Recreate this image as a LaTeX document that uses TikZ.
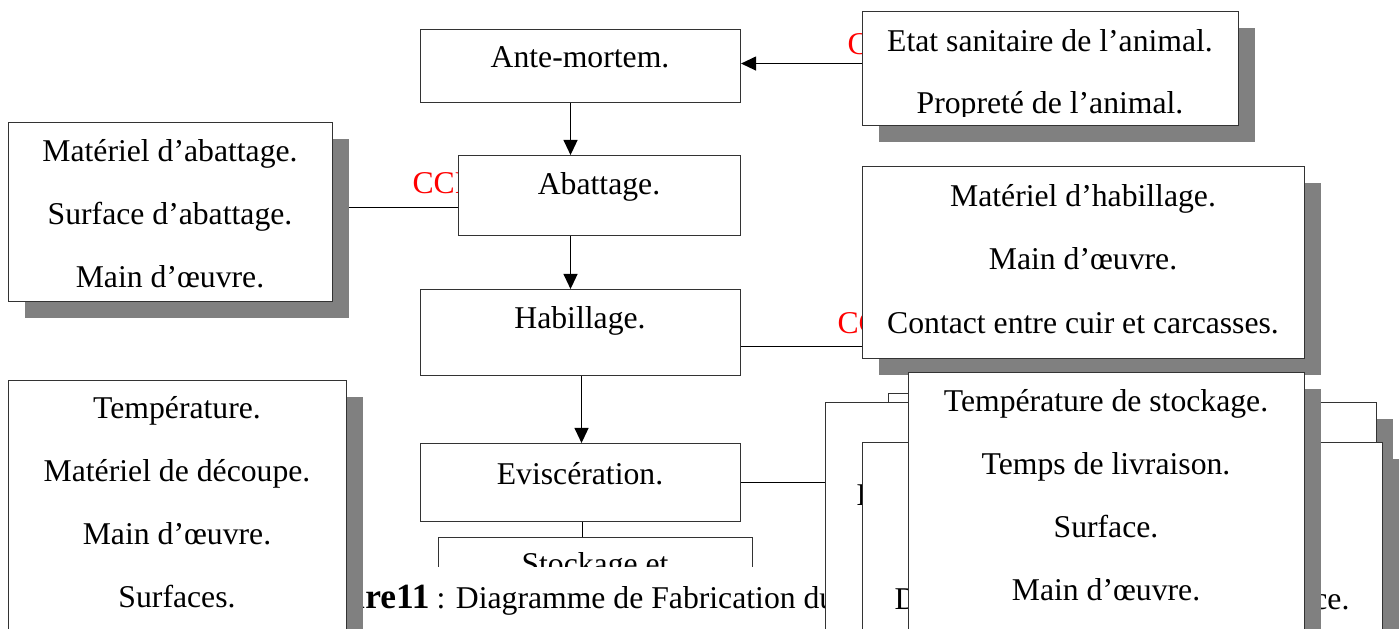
\documentclass[tikz,border=0pt]{standalone}
\usepackage{fontspec}
\setmainfont{Liberation Serif}
\usetikzlibrary{arrows.meta,shadows,backgrounds,calc}

\newcommand{\pxu}{0.0133cm}
\tikzset{
  box/.style 2 args={draw=black!80, fill=white, inner sep=0pt, anchor=north west,
    minimum width={#1*\pxu}, minimum height={#2*\pxu}},
  sbox/.style 2 args={box={#1}{#2},
    drop shadow={shadow xshift={16*\pxu}, shadow yshift={-16*\pxu}, fill=black!50, opacity=1}},
  txt/.style={inner sep=0pt, anchor=base, font=\fontsize{12pt}{14pt}\selectfont},
  ccp/.style={txt, anchor=base west, text=red},
  arr/.style={-{Triangle[length=5.7pt,width=5.3pt]}, line width=0.5pt},
  link/.style={line width=0.5pt}
}

\begin{document}
\begin{tikzpicture}[x=\pxu, y=-\pxu]
    \useasboundingbox (0,0) rectangle (1400,629);
    \clip (0,0) rectangle (1400,629);

    % process steps
    \node[box={320}{73}] (ante) at (420,29) {};
    \node[txt] (anteT) at (580,68) {Ante-mortem.};
    \node[box={282}{80}] (abat) at (458,155) {};
    \node[txt] (abatT) at (599,195) {Abattage.};
    \node[box={320}{86}] (habil) at (420,289) {};
    \node[txt] (habilT) at (580,328) {Habillage.};
    \node[box={320}{78}] (evisc) at (420,443) {};
    \node[txt] (eviscT) at (580,484) {Eviscération.};
    \node[box={314}{120}] (stock) at (438,537) {};
    \node[txt] (stockT) at (595,574) {Stockage et};

    % caption
    \fill[white] (340,567) rectangle (830,640);
    \node[txt, anchor=base east, font=\fontsize{13.4pt}{15pt}\selectfont\bfseries] (figT) at (430,608) {Figure11};
    \node[txt, anchor=base west] (capT) at (436,608) {: Diagramme de Fabrication du};

    % hazards
    \node[sbox={324}{179}] (matab) at (8,122) {};
    \foreach \t [count=\i] in {Matériel d’abattage., Surface d’abattage., Main d’œuvre.}
        \node[txt] (matab\i) at (170,{162+(\i-1)*63}) {\t};

    \node[sbox={376}{114}] (etat) at (862,11) {};
    \begin{scope}
        \clip (etat.north west) rectangle ([yshift=10*\pxu]etat.south east);
        \node[txt] (etat1) at (1050,52) {Etat sanitaire de l’animal.};
        \node[txt] (etat2) at (1050,114) {Propreté de l’animal.};
    \end{scope}

    \node[sbox={442}{192}] (mhab) at (862,166) {};
    \foreach \t [count=\i] in {Matériel d’habillage., Main d’œuvre., Contact entre cuir et carcasses.}
        \node[txt] (mhab\i) at (1083,{207+(\i-1)*63}) {\t};

    \node[sbox={338}{280}] (tleft) at (8,380) {};
    \foreach \t [count=\i] in {Température., Matériel de découpe., Main d’œuvre., Surfaces.}
        \node[txt] (tleft\i) at (177,{418+(\i-1)*63.3}) {\t};

    % stacked boxes
    \node[sbox={424}{100}] (boxC) at (888,393) {};
    \node[sbox={551}{260}] (boxA) at (825,402) {};
    \node[txt, anchor=base west] (boxAT) at (856,505) {D};
    \node[sbox={520}{220}] (boxB) at (862,442) {};
    \node[txt, anchor=base west] (boxBT1) at (894,609) {D};
    \node[txt, anchor=base east] (boxBT2) at (1350,609) {ce.};

    \node[sbox={396}{290}] (tright) at (908,372) {};
    \foreach \t [count=\i] in {Température de stockage., Temps de livraison., Surface., Main d’œuvre.}
        \node[txt] (tright\i) at (1106,{411+(\i-1)*63.3}) {\t};

    % links
    \begin{pgfonlayer}{background}
        \node[ccp] (ccp1) at (847,55) {CCP};
        \node[ccp] (ccp2) at (412,194) {CCP};
        \node[ccp] (ccp3) at (837,333) {CCP};

        \coordinate (e1) at ([yshift=5*\pxu]etat.west);
        \draw[arr] (e1) -- (e1 -| ante.east);
        \coordinate (e2) at ([yshift=4.5*\pxu]matab.east);
        \draw[link] (e2) -- (e2 -| abat.west);
        \coordinate (e3) at ([yshift=-14*\pxu]habil.east);
        \draw[link] (e3) -- (e3 -| mhab.west);
        \draw[link] (evisc.east) -- (evisc.east -| boxA.west);

        \draw[arr] ([xshift=-10*\pxu]ante.south) -- ([xshift=-10*\pxu]ante.south |- abat.north);
        \draw[arr] ([xshift=-29*\pxu]abat.south) -- ([xshift=-29*\pxu]abat.south |- habil.north);
        \draw[arr] ([xshift=1*\pxu]habil.south) -- ([xshift=1*\pxu]habil.south |- evisc.north);
        \draw[link] ([xshift=2*\pxu]evisc.south) -- ([xshift=2*\pxu]evisc.south |- stock.north);
    \end{pgfonlayer}
\end{tikzpicture}
\end{document}
